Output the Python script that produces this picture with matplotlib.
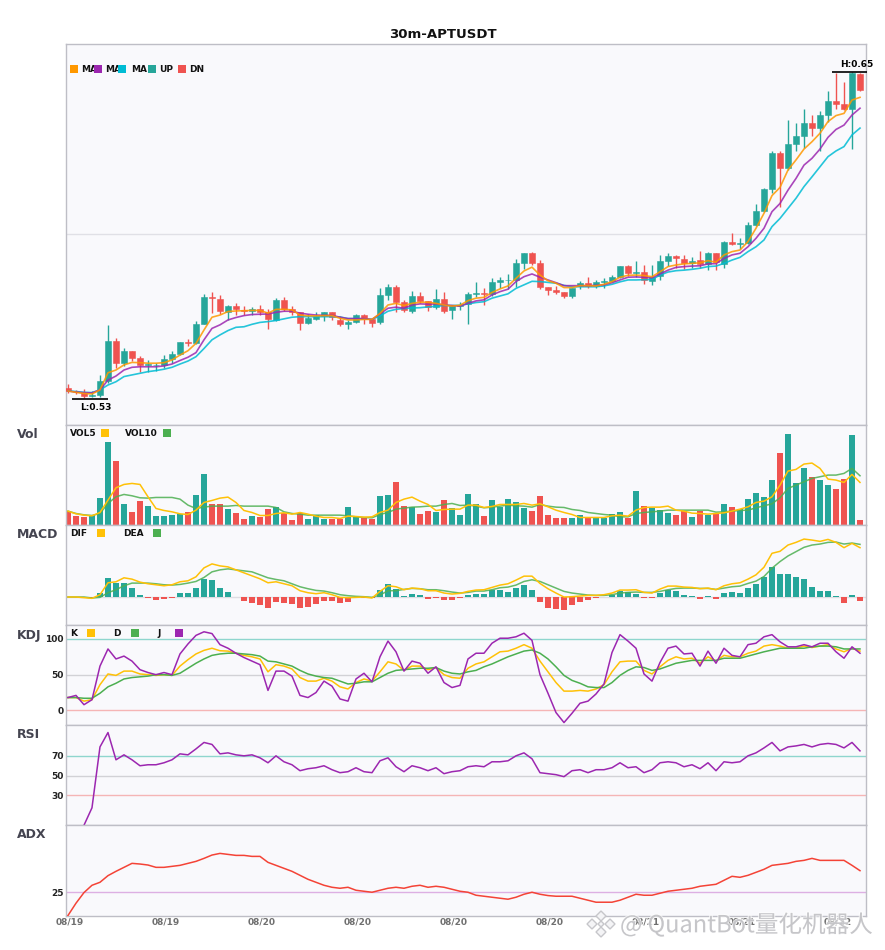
import numpy as np
import matplotlib
matplotlib.use("Agg")
import matplotlib.pyplot as plt
from matplotlib.patches import Rectangle, Polygon
from matplotlib.transforms import ScaledTranslation
import matplotlib.patheffects as pe

W, H = 885, 950
title = "30m-APTUSDT"
tick_labels = ["08/19", "08/19", "08/20", "08/20", "08/20", "08/20", "08/21", "08/21", "08/22"]
tick_pos = [0, 12, 24, 36, 48, 60, 72, 84, 96]

open_ = [.5335,.5322,.5318,.5307,.5309,.5361,.5508,.5426,.5471,.5445,
.5420,.5418,.5421,.5442,.5460,.5504,.5500,.5570,.5670,.5662,
.5614,.5636,.5622,.5619,.5625,.5614,.5585,.5658,.5625,.5614,
.5574,.5589,.5600,.5614,.5585,.5570,.5578,.5603,.5589,.5578,
.5677,.5706,.5651,.5618,.5673,.5655,.5633,.5662,.5622,.5636,
.5644,.5681,.5684,.5681,.5725,.5730,.5732,.5794,.5831,.5794,
.5706,.5695,.5688,.5673,.5710,.5721,.5710,.5723,.5728,.5743,
.5783,.5757,.5761,.5729,.5746,.5802,.5820,.5809,.5793,.5805,
.5790,.5831,.5791,.5871,.5865,.5868,.5934,.5985,.6066,.6198,
.6143,.6232,.6261,.6309,.6290,.6338,.6390,.6379,.6360,.6489]
close = [.5325,.5319,.5307,.5309,.5361,.5508,.5427,.5471,.5445,.5421,
.5423,.5421,.5442,.5460,.5504,.5502,.5570,.5670,.5666,.5618,
.5636,.5625,.5618,.5625,.5614,.5589,.5658,.5625,.5614,.5574,
.5592,.5600,.5614,.5597,.5570,.5578,.5603,.5589,.5574,.5677,
.5706,.5651,.5622,.5673,.5655,.5633,.5662,.5618,.5636,.5640,
.5681,.5684,.5682,.5725,.5732,.5732,.5794,.5831,.5794,.5706,
.5695,.5688,.5673,.5703,.5721,.5710,.5725,.5728,.5743,.5783,
.5757,.5761,.5732,.5743,.5802,.5820,.5813,.5794,.5803,.5790,
.5831,.5798,.5871,.5864,.5868,.5934,.5985,.6066,.6198,.6143,
.6232,.6261,.6309,.6290,.6338,.6390,.6379,.6360,.6492,.6430]
high = [.5350,.5328,.5331,.5325,.5383,.5567,.5519,.5482,.5471,.5453,
.5438,.5426,.5456,.5471,.5504,.5515,.5581,.5681,.5688,.5677,
.5640,.5647,.5636,.5633,.5640,.5625,.5666,.5670,.5636,.5614,
.5607,.5614,.5614,.5614,.5600,.5585,.5607,.5607,.5592,.5703,
.5717,.5714,.5659,.5692,.5688,.5655,.5699,.5688,.5640,.5651,
.5688,.5725,.5703,.5739,.5743,.5754,.5809,.5831,.5835,.5805,
.5706,.5710,.5688,.5703,.5728,.5743,.5732,.5739,.5750,.5783,
.5787,.5802,.5787,.5787,.5824,.5831,.5824,.5824,.5816,.5838,
.5835,.5831,.5875,.5904,.5886,.5945,.6011,.6070,.6206,.6206,
.6320,.6309,.6360,.6338,.6353,.6426,.6492,.6459,.6496,.6492]
low = [.5316,.5313,.5300,.5303,.5301,.5352,.5410,.5416,.5433,.5394,
.5394,.5399,.5409,.5428,.5456,.5489,.5497,.5570,.5611,.5607,
.5585,.5603,.5603,.5603,.5603,.5552,.5581,.5618,.5603,.5548,
.5570,.5585,.5581,.5585,.5563,.5552,.5574,.5570,.5559,.5570,
.5659,.5614,.5614,.5611,.5647,.5618,.5625,.5611,.5589,.5622,
.5570,.5670,.5640,.5673,.5703,.5699,.5706,.5772,.5787,.5699,
.5677,.5681,.5666,.5666,.5699,.5703,.5703,.5703,.5725,.5739,
.5746,.5744,.5717,.5713,.5732,.5783,.5776,.5772,.5776,.5776,
.5768,.5768,.5776,.5860,.5846,.5864,.5930,.5982,.6051,.6000,
.6136,.6206,.6217,.6261,.6206,.6312,.6360,.6356,.6213,.6426]
ma_fast = [.5324,.5319,.5315,.5313,.5328,.5391,.5401,.5420,.5429,.5428,
.5426,.5426,.5428,.5438,.5456,.5472,.5499,.5548,.5595,.5603,
.5616,.5618,.5619,.5620,.5620,.5610,.5624,.5624,.5622,.5603,
.5600,.5600,.5601,.5601,.5591,.5585,.5585,.5587,.5587,.5609,
.5640,.5646,.5638,.5646,.5650,.5650,.5646,.5640,.5636,.5639,
.5656,.5665,.5668,.5686,.5699,.5710,.5738,.5765,.5779,.5750,
.5729,.5720,.5704,.5704,.5711,.5711,.5710,.5716,.5726,.5742,
.5749,.5750,.5748,.5744,.5762,.5781,.5787,.5791,.5793,.5795,
.5803,.5797,.5824,.5836,.5842,.5873,.5922,.5977,.6042,.6072,
.6136,.6173,.6213,.6240,.6271,.6314,.6336,.6344,.6393,.6403]
ma_mid = [.5324,.5320,.5318,.5317,.5328,.5364,.5379,.5401,.5411,.5413,
.5413,.5413,.5416,.5423,.5436,.5448,.5465,.5512,.5554,.5567,
.5585,.5594,.5601,.5605,.5606,.5607,.5613,.5617,.5617,.5610,
.5606,.5603,.5602,.5602,.5595,.5590,.5590,.5590,.5587,.5607,
.5628,.5632,.5628,.5640,.5644,.5643,.5644,.5640,.5638,.5636,
.5646,.5655,.5659,.5677,.5689,.5698,.5726,.5744,.5754,.5742,
.5732,.5722,.5711,.5711,.5711,.5711,.5712,.5714,.5722,.5732,
.5742,.5743,.5742,.5740,.5754,.5768,.5778,.5781,.5783,.5784,
.5791,.5792,.5811,.5824,.5830,.5854,.5885,.5922,.5983,.6013,
.6062,.6105,.6154,.6179,.6213,.6256,.6285,.6301,.6338,.6363]
ma_slow = [.5324,.5322,.5319,.5318,.5328,.5346,.5358,.5377,.5383,.5389,
.5395,.5399,.5404,.5411,.5423,.5434,.5450,.5480,.5512,.5530,
.5546,.5558,.5560,.5569,.5576,.5579,.5583,.5589,.5595,.5597,
.5597,.5597,.5597,.5597,.5596,.5590,.5590,.5589,.5587,.5600,
.5617,.5624,.5627,.5629,.5630,.5633,.5635,.5638,.5638,.5639,
.5644,.5649,.5652,.5665,.5673,.5681,.5701,.5714,.5727,.5726,
.5723,.5720,.5712,.5707,.5707,.5707,.5707,.5710,.5716,.5725,
.5732,.5732,.5733,.5734,.5750,.5761,.5766,.5768,.5771,.5775,
.5781,.5783,.5793,.5805,.5815,.5836,.5854,.5879,.5928,.5958,
.5995,.6032,.6075,.6111,.6148,.6185,.6206,.6222,.6265,.6290]

volume = [40,25,22,28,79,247,190,61,37,70,55,25,25,28,31,37,88,151,61,61,46,34,16,25,22,46,52,34,13,34,16,28,16,16,16,52,25,19,16,85,88,127,55,52,31,40,37,73,
49,28,91,61,25,73,52,76,67,49,40,85,28,19,19,19,28,19,19,19,31,37,19,100,55,49,43,34,28,40,22,40,28,34,61,52,46,76,94,82,133,214,271,124,169,142,133,118,106,136,268,13]
vol5 = [40,32,28,26,36,73,110,120,123,120,83,48,42,38,32,30,43,66,72,79,82,66,42,36,27,27,33,35,31,36,31,25,21,21,18,25,24,22,23,36,43,66,76,82,70,60,42,45,
46,46,58,58,51,54,60,60,60,63,58,62,53,43,36,30,21,21,21,21,26,28,25,43,51,52,52,55,43,40,34,33,31,33,35,40,46,53,66,70,83,118,160,165,181,184,168,136,133,126,150,126]
vol10 = [40,33,29,27,33,63,83,90,86,80,79,81,81,81,76,58,48,52,55,55,55,57,55,55,55,55,51,38,33,31,28,28,28,28,28,26,23,21,20,30,36,46,49,52,53,55,55,60,
63,57,58,55,50,52,55,58,56,55,52,60,55,52,51,45,42,36,33,30,28,23,23,33,36,38,40,43,43,43,43,43,43,37,38,40,42,43,50,56,62,80,108,118,128,138,143,148,148,153,168,146]

macd_hist = [0,0,-1,-2,12,58,43,43,28,7,-2,-8,-5,-2,13,13,28,55,52,28,16,-1,-11,-17,-23,-32,-14,-17,-20,-32,-29,-20,-11,-11,-17,-14,-4,-4,-2,22,40,25,4,10,7,-5,-2,-10,
-8,-4,7,10,10,22,22,16,28,37,22,-14,-32,-35,-38,-23,-14,-8,-2,1,7,19,16,10,-2,-2,13,22,19,7,4,-5,4,-5,13,16,13,28,40,61,91,70,70,61,55,31,19,19,3,-17,7,-11]
dif = [0,0,-2,-4,7,43,46,58,54,45,40,37,34,37,46,49,61,88,100,94,91,82,73,64,55,43,46,40,34,19,13,10,13,7,-1,-2,-1,0,-3,17,34,31,22,27,25,19,19,12,
9,11,17,21,22,29,36,40,51,63,63,41,25,12,0,1,3,5,5,7,12,21,21,22,14,12,24,33,33,30,29,25,27,22,34,40,43,54,67,90,132,138,157,165,175,172,168,174,165,149,162,149]
dea = [0,0,0,-3,-1,13,22,34,42,42,42,40,37,36,38,42,47,59,76,82,85,82,79,76,67,58,53,49,40,31,25,20,18,13,7,4,2,1,-1,6,19,19,23,26,25,22,22,19,
15,12,14,18,18,22,28,30,36,47,52,47,37,27,17,12,9,6,5,5,7,12,14,15,14,14,17,22,26,27,27,26,26,23,27,31,33,41,48,62,87,107,124,137,150,157,160,165,166,160,163,159]

kdj_k = [18,18,13,15,36,51,49,55,55,51,50,49,50,49,62,71,79,84,87,83.5,83,80,77,75,72,54,64,62,58,46,41,41,45,41,33,30,39,44,41,54,68,65,56,62,62,57,60,50,
46,45,59,65,68,75,82,83,87,92,87,69,54,39,27,27,28,27,30,36,54,68,69,69,56,51,61,70,75,72,73,66,75,69,77,75,75,80,83,90,92,90,87,87,90,88,90,92,86,82,87,83]
kdj_d = [18,18,17,17,24,33,38,44,46,47,48,50,50,49,52,59,66,72,77,79,80,80,79,78,76,69,68,65,62,56,51,48,46,45,41,37,38,40,40,46,52,56,57,58,59,59,60,55,
52,51,54,56,61,65,70,75,79,83,84.5,80,72,61,49,42,38,33,32,32,39,49,56,61,60,56,58,62,66,68,70,70,70,70,73,73,73,76,79,82,84.5,87,87,87,87,89,90,90,89,86,86,86]
kdj_j = [18,21,8,15,62,86,72,76,69,57,53,50,53,50,79,93,105,110,107.5,92,87,80,74,69,64,28,55,55,48,21,18,25,41,34,16,13,44,52,40,75,97,82,55,69,66,52,61,39,
32,35,72,80,80,94,101,101,103,108,98,50,24,-3,-17,-4,10,13,23,37,81,106,97,87,51,41,67,87,90,79,80,62,83,66,87,77,75,92,94,103,106,96,89,89,92,89,94,94,82,73,89,80]
rsi = [np.nan,np.nan,0,17.6,79,93.5,66,71,66,60,61,61,63,66,72,71,77,83.5,81.5,72,73,71,70,71,68,63,70,64,61,55,57,58,60,56,53,54,58,54,53,65,68,59,54,60,58,55,58,52,
54,55,59,60,59,64,64,65,70,73,67,53,52,51,49,55,56,53,56,56,58,63,58,59,53,56,63,64,63,59,61,57,63,55,64,63,64,70,73,78,83.5,75,79,80,81.5,79,81.5,82.5,81.5,78,83.5,75]
adx = [11,18.4,24.8,29.2,31,35,37.6,40,42.4,42,41.4,40,40,40.6,41.2,42.4,43.6,45.4,47.4,48.4,47.8,47.2,47.2,46.6,46.6,43,41.2,39.4,37.6,35.2,32.8,31,29.2,28,27.4,28,26.2,25.6,25,26.2,27.4,28,27.4,28.6,29.2,28,28.6,28,
26.8,25.6,25,23.2,22.6,22,21.4,20.8,22,23.8,25,23.8,23,22.6,22.6,22.6,21.4,20.2,19,19,19,20.2,22,23.8,23.2,23.2,24.4,25.6,26.2,26.8,27.4,28.6,29.2,29.8,32.2,34.6,34,35.2,37,38.8,41.2,41.8,42.4,43.6,44.2,45.4,44.2,44.2,44.2,44.2,41.2,38]

UP, DN = "#26A69A", "#EF5350"
C_FAST, C_MID, C_SLOW = "#FF9800", "#9C27B0", "#00BCD4"
C_Y, C_G, C_P = "#FFC107", "#4CAF50", "#9C27B0"
BG = "#F9F9FC"
SP = "#BEBEC6"

plt.rcParams["font.family"] = ["DejaVu Sans"]
fig = plt.figure(figsize=(W / 100, H / 100), dpi=100, facecolor="white")
x = np.arange(len(close))
colors = [UP if c >= o else DN for o, c in zip(open_, close)]


def panel(top, bottom, ylim):
    ax = fig.add_axes([65.5 / W, 1 - bottom / H, (866 - 65.5) / W, (bottom - top) / H])
    ax.set_facecolor(BG)
    ax.set_xlim(-0.31, 99.75)
    ax.set_ylim(*ylim)
    ax.set_xticks([])
    ax.set_yticks([])
    for s in ax.spines.values():
        s.set_color(SP)
        s.set_linewidth(1.0)
    return ax


def ftext(px, py, s, **kw):
    kw.setdefault("va", "center")
    return fig.text(px / W, 1 - py / H, s, **kw)


def square(px, py, color, size=8):
    fig.add_artist(Rectangle((px / W, 1 - (py + size / 2) / H), size / W, size / H,
                             transform=fig.transFigure, facecolor=color, edgecolor="none", zorder=6))


def refline(ax, value, color):
    ax.axhline(value, color=color, lw=1.0, zorder=1)


def ylabels(ax, values):
    ax.set_yticks(values)
    ax.set_yticklabels([str(v) for v in values], fontsize=6.5, fontweight="bold", color="#222222")
    ax.tick_params(axis="y", length=0, pad=1.2)


# main
ax0 = panel(44, 425, (0.5199, 0.6599))
ax0.axhline(0.59, color="#E0E0E6", lw=1.0, zorder=1)
ax0.vlines(x, low, high, colors=colors, lw=1.0, zorder=2)
bot = np.minimum(open_, close)
ax0.bar(x, np.abs(np.array(close) - np.array(open_)), bottom=bot, width=0.75, color=colors,
        edgecolor=colors, linewidth=0.4, zorder=3)
for series, c in ((ma_slow, C_SLOW), (ma_mid, C_MID), (ma_fast, C_FAST)):
    ax0.plot(x, series, color=c, lw=1.2, alpha=0.85, zorder=4)
ax0.hlines(0.6496, 95.5, 99.9, color="black", lw=1.2, zorder=5, clip_on=False)
ax0.hlines(0.5296, 0.5, 5, color="black", lw=1.2, zorder=5)
ax0.annotate("H:0.65", (99.9, 0.6496), xytext=(4.5, 5.2), textcoords="offset points", ha="right",
             va="center", fontsize=6.5, fontweight="bold", annotation_clip=False)
ax0.annotate("L:0.53", (2.8, 0.5296), xytext=(4, -6.5), textcoords="offset points", ha="center",
             va="center", fontsize=6.5, fontweight="bold")
ftext(443, 34, title, ha="center", fontsize=9.5, fontweight="bold", color="#111111")

for px, s in ((81, "MA"), (105, "MA"), (131, "MA"), (159, "UP"), (189, "DN")):
    ftext(px, 69, s, fontsize=6.5, fontweight="bold", color="#111111")
for px, c in ((70, C_FAST), (94, C_MID), (118, C_SLOW), (148, UP), (178, DN)):
    square(px, 69, c)

# volume
ax1 = panel(425, 524.5, (0, 298))
ax1.bar(x, volume, width=0.75, color=colors, zorder=2)
ax1.plot(x, vol10, color=C_G, lw=1.1, alpha=0.85, zorder=3)
ax1.plot(x, vol5, color=C_Y, lw=1.1, zorder=4)
ftext(17, 434, "Vol", fontsize=9, fontweight="bold", color="#444450")
ftext(70, 434, "VOL5", fontsize=6.5, fontweight="bold", color="#111111")
ftext(125, 434, "VOL10", fontsize=6.5, fontweight="bold", color="#111111")
square(101, 433, C_Y)
square(163, 433, C_G)

# macd
ax2 = panel(524.5, 624.5, (-83, 219))
ax2.axhline(0, color="#DDDDE2", lw=1.0, zorder=1)
ax2.bar(x, macd_hist, width=0.75, color=[UP if v >= 0 else DN for v in macd_hist], zorder=2)
ax2.plot(x, dea, color=C_G, lw=1.1, alpha=0.85, zorder=3)
ax2.plot(x, dif, color=C_Y, lw=1.1, zorder=4)
ftext(17, 535, "MACD", fontsize=9, fontweight="bold", color="#444450")
ftext(70, 534, "DIF", fontsize=6.5, fontweight="bold", color="#111111")
ftext(123, 534, "DEA", fontsize=6.5, fontweight="bold", color="#111111")
square(97, 533, C_Y)
square(153, 533, C_G)

# kdj
ax3 = panel(624.5, 724.5, (-19.7, 120.2))
refline(ax3, 100, "#8FD6CE")
refline(ax3, 50, "#D2D2D6")
refline(ax3, 0, "#F5B5B5")
ax3.plot(x, kdj_k, color=C_Y, lw=1.1, zorder=3)
ax3.plot(x, kdj_d, color=C_G, lw=1.1, zorder=3)
ax3.plot(x, kdj_j, color=C_P, lw=1.1, zorder=4)
ylabels(ax3, [100, 50, 0])
ftext(17, 635, "KDJ", fontsize=9, fontweight="bold", color="#444450")
ftext(70, 634, "K", fontsize=6.5, fontweight="bold", color="#111111")
ftext(113, 634, "D", fontsize=6.5, fontweight="bold", color="#111111")
ftext(157, 634, "J", fontsize=6.5, fontweight="bold", color="#111111")
square(87, 633, C_Y)
square(131, 633, C_G)
square(175, 633, C_P)

# rsi
ax4 = panel(724.5, 824.5, (0.75, 101.6))
refline(ax4, 70, "#8FD6CE")
refline(ax4, 50, "#D2D2D6")
refline(ax4, 30, "#F5B5B5")
ax4.plot(x, rsi, color=C_P, lw=1.1, zorder=4)
ylabels(ax4, [70, 50, 30])
ftext(17, 735, "RSI", fontsize=9, fontweight="bold", color="#444450")

# adx
ax5 = panel(824.5, 915.5, (11, 65.8))
refline(ax5, 25, "#DDB0E3")
ax5.plot(x, adx, color="#F44336", lw=1.1, zorder=4)
ylabels(ax5, [25])
ftext(17, 835, "ADX", fontsize=9, fontweight="bold", color="#444450")
ax5.set_xticks(tick_pos)
ax5.set_xticklabels(tick_labels, fontsize=6.5, fontweight="bold", color="#707070")
ax5.tick_params(axis="x", length=0, pad=1.5)
shift = ScaledTranslation(2 / 100, 0, fig.dpi_scale_trans)
for lab in ax5.get_xticklabels():
    lab.set_transform(lab.get_transform() + shift)

# watermark
halo = [pe.withStroke(linewidth=1.5, foreground="white", alpha=0.7)]
t = ftext(620, 925, "@ QuantBot量化机器人", fontsize=17, color="#BCBCC0", alpha=0.8,
          family=["Noto Sans CJK SC", "DejaVu Sans"], zorder=7)
t.set_path_effects(halo)
for cx, cy, r in ((601, 916, 5), (592, 924, 5), (610, 924, 5), (601, 932, 5), (601, 924, 3)):
    pts = [((cx + dx) / W, 1 - (cy + dy) / H) for dx, dy in ((r, 0), (0, r), (-r, 0), (0, -r))]
    fig.add_artist(Polygon(pts, closed=True, transform=fig.transFigure, facecolor="#F4F4F6",
                           edgecolor="#C6C6CA", lw=1.0, zorder=7))

fig.savefig("out.png", dpi=100, facecolor="white")
